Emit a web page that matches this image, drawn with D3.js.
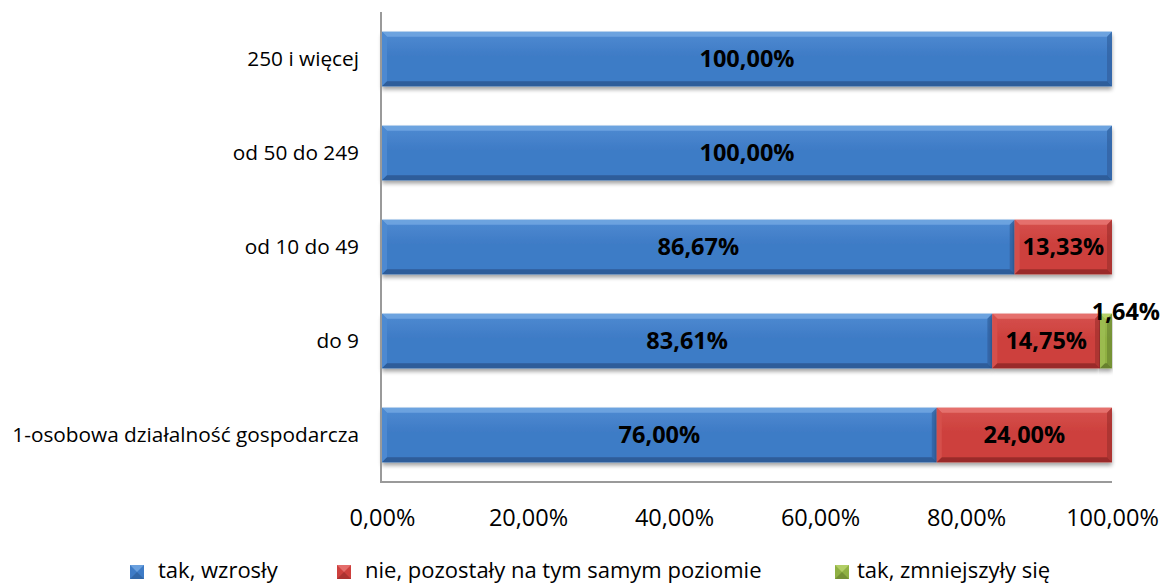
<!DOCTYPE html>
<html>
<head>
<meta charset="utf-8">
<script src="https://cdn.jsdelivr.net/npm/d3@7/dist/d3.min.js"></script>
<style>
  html, body { margin: 0; padding: 0; background: #fff; }
  svg { display: block; font-family: "Open Sans", Carlito, Calibri, sans-serif; }
</style>
</head>
<body>
<svg id="chart" width="1161" height="584"></svg>
<script>
// Company size groups (bottom to top)
const categories = [
  "1-osobowa działalność gospodarcza",
  "do 9",
  "od 10 do 49",
  "od 50 do 249",
  "250 i więcej"
];
const seriesNames = ["tak, wzrosły", "nie, pozostały na tym samym poziomie", "tak, zmniejszyły się"];
const wzrosly     = [76.00, 83.61, 86.67, 100.00, 100.00];
const pozostaly   = [24.00, 14.75, 13.33, 0, 0];
const zmniejszyly = [0, 1.64, 0, 0, 0];
const tickValues  = [0, 20, 40, 60, 80, 100];

const palette = [
  { base: "#3e7bc6", light: "#72a7e2", dark: "#2b5a95", top: "#4f8bd2" },
  { base: "#cd403d", light: "#e87673", dark: "#952a28", top: "#d6514d" },
  { base: "#8fb043", light: "#b8d46c", dark: "#637b2b", top: "#9cbc52" }
];

const svg = d3.select("#chart");
const W = 1161, H = 584;
const m = { left: 382, right: 49, top: 12, bottom: 102 };

const x = d3.scaleLinear().domain([0, 100]).range([m.left, W - m.right]);
const y = d3.scaleBand().domain(categories.slice().reverse())
  .range([m.top, H - m.bottom]).paddingInner(0.42).paddingOuter(0.21);

const fmt = v => d3.format(".2f")(v).replace(".", ",") + "%";

// Gradients and drop shadow
const defs = svg.append("defs");
palette.forEach((p, i) => {
  const g = defs.append("linearGradient").attr("id", "grad" + i)
    .attr("x1", 0).attr("y1", 0).attr("x2", 0).attr("y2", 1);
  g.append("stop").attr("offset", "0%").attr("stop-color", p.top);
  g.append("stop").attr("offset", "45%").attr("stop-color", p.base);
  g.append("stop").attr("offset", "100%").attr("stop-color", p.base);
});
const sh = defs.append("filter").attr("id", "shadow")
  .attr("x", "-5%").attr("y", "-20%").attr("width", "110%").attr("height", "160%");
sh.append("feGaussianBlur").attr("in", "SourceAlpha").attr("stdDeviation", 2.2);
sh.append("feOffset").attr("dx", 0).attr("dy", 3).attr("result", "ob");
sh.append("feComponentTransfer").append("feFuncA").attr("type", "linear").attr("slope", 0.38);
const mg = sh.append("feMerge");
mg.append("feMergeNode");
mg.append("feMergeNode").attr("in", "SourceGraphic");

// Stack the series
const rows = categories.map((c, i) => ({ cat: c, s0: wzrosly[i], s1: pozostaly[i], s2: zmniejszyly[i] }));
const stacked = d3.stack().keys(["s0", "s1", "s2"])(rows);

const bv = 5; // bevel width
const barsG = svg.append("g");
stacked.forEach((layer, si) => {
  const p = palette[si];
  layer.forEach(d => {
    const v = d[1] - d[0];
    if (v <= 0) return;
    const x0 = x(d[0]), x1 = x(d[1]);
    const y0 = y(d.data.cat), h = y.bandwidth();
    const w = x1 - x0;
    const g = barsG.append("g").attr("filter", "url(#shadow)");
    g.append("rect").attr("x", x0).attr("y", y0).attr("width", w).attr("height", h)
      .attr("fill", `url(#grad${si})`);
    const b = Math.min(bv, w / 2);
    g.append("polygon").attr("points", [[x0, y0], [x1, y0], [x1 - b, y0 + b], [x0 + b, y0 + b]].join(" "))
      .attr("fill", p.light).attr("opacity", 0.85);
    g.append("polygon").attr("points", [[x0, y0], [x0 + b, y0 + b], [x0 + b, y0 + h - b], [x0, y0 + h]].join(" "))
      .attr("fill", p.top).attr("opacity", 0.9);
    g.append("polygon").attr("points", [[x1, y0], [x1, y0 + h], [x1 - b, y0 + h - b], [x1 - b, y0 + b]].join(" "))
      .attr("fill", p.dark).attr("opacity", 0.55);
    g.append("polygon").attr("points", [[x0, y0 + h], [x0 + b, y0 + h - b], [x1 - b, y0 + h - b], [x1, y0 + h]].join(" "))
      .attr("fill", p.dark).attr("opacity", 0.9);
  });
});

// Axis lines
svg.append("line").attr("x1", x(0) - 1).attr("x2", x(0) - 1).attr("y1", m.top).attr("y2", H - m.bottom)
  .attr("stroke", "#9a9a9a").attr("stroke-width", 2);
svg.append("line").attr("x1", x(0) - 2).attr("x2", x(100)).attr("y1", H - m.bottom).attr("y2", H - m.bottom)
  .attr("stroke", "#9a9a9a").attr("stroke-width", 2);

// Percentage tick labels
const xAxis = d3.axisBottom(x).tickValues(tickValues).tickFormat(v => fmt(v)).tickSize(0).tickPadding(0);
const xg = svg.append("g").attr("transform", `translate(0,${H - m.bottom + 44})`).call(xAxis);
xg.select(".domain").remove();
xg.selectAll("text").attr("font-size", 23.5).attr("fill", "#000").attr("dy", "0")
  .attr("font-family", "'Open Sans', sans-serif");

// Category labels
const yAxis = d3.axisLeft(y).tickSize(0).tickPadding(23);
const yg = svg.append("g").attr("transform", `translate(${x(0)},0)`).call(yAxis);
yg.select(".domain").remove();
yg.selectAll("text").attr("font-size", 20.8).attr("fill", "#000")
  .attr("font-family", "'Open Sans', sans-serif");

// Value labels
stacked.forEach((layer, si) => {
  layer.forEach(d => {
    const v = d[1] - d[0];
    if (v <= 0) return;
    const small = (x(d[1]) - x(d[0])) < 40;
    const t = svg.append("text").text(fmt(v))
      .attr("font-size", 23.5).attr("font-weight", "bold").attr("fill", "#000");
    if (small) {
      t.attr("text-anchor", "end").attr("x", W - 1).attr("y", y(d.data.cat) + 6);
    } else {
      t.attr("text-anchor", "middle")
        .attr("x", (x(d[0]) + x(d[1])) / 2).attr("y", y(d.data.cat) + y.bandwidth() / 2).attr("dy", "0.36em");
    }
  });
});

// Legend
const legendX = [130, 337, 835];
const textOff = [28, 28, 22];
const lg = svg.append("g").attr("transform", `translate(0,${H - 12})`);
seriesNames.forEach((n, i) => {
  const p = palette[i];
  const g = lg.append("g").attr("transform", `translate(${legendX[i]},0)`);
  g.append("rect").attr("x", 0).attr("y", -7).attr("width", 14).attr("height", 14).attr("fill", p.base);
  g.append("polygon").attr("points", "0,-7 14,-7 7,0").attr("fill", p.light).attr("opacity", 0.85);
  g.append("polygon").attr("points", "0,7 14,7 7,0").attr("fill", p.dark).attr("opacity", 0.6);
  g.append("text").attr("x", textOff[i]).attr("y", 6)
    .attr("font-size", 22).text(n);
});
</script>
</body>
</html>
